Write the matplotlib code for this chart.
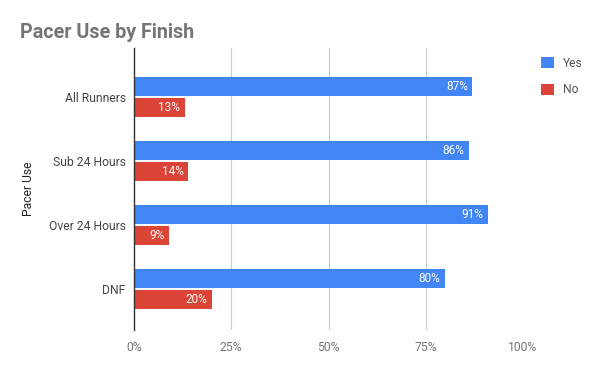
import matplotlib
matplotlib.use("Agg")
import matplotlib.pyplot as plt
import numpy as np

categories = ["All Runners", "Sub 24 Hours", "Over 24 Hours", "DNF"]
yes_vals = [87, 86, 91, 80]
no_vals = [13, 14, 9, 20]
xticks = [0, 25, 50, 75, 100]
xtick_labels = ["0%", "25%", "50%", "75%", "100%"]

plt.rcParams['font.family'] = ['Roboto', 'DejaVu Sans']

fig = plt.figure(figsize=(6, 3.71), dpi=100)
ax = fig.add_axes([134/600, 1-330/371, (523-134)/600, (330-48)/371])

blue = "#4285F4"
red = "#DB4437"
y = np.arange(len(categories))
h = 0.31
off = 0.165
ax.barh(y - off, yes_vals, height=h, color=blue, label="Yes", zorder=3)
ax.barh(y + off, no_vals, height=h, color=red, label="No", zorder=3)

for i in range(len(categories)):
    ax.text(yes_vals[i] - 1.2, y[i] - off, f"{yes_vals[i]}%", color="white",
            ha="right", va="center", fontsize=8.5, zorder=4)
    ax.text(no_vals[i] - 1.2, y[i] + off, f"{no_vals[i]}%", color="white",
            ha="right", va="center", fontsize=8.5, zorder=4)

ax.set_xlim(0, 100)
ax.set_ylim(3 + 41/64, -49/64)
ax.set_xticks(xticks)
ax.set_xticklabels(xtick_labels)
ax.set_yticks(y)
ax.set_yticklabels(categories)
ax.tick_params(axis='both', length=0, colors="#757575", labelsize=8.7)
ax.tick_params(axis='x', pad=8)
ax.tick_params(axis='y', pad=6, labelcolor="#444444")
ax.grid(axis='x', color="#cccccc", linewidth=0.8, zorder=0)
for s in ["top", "right", "bottom"]:
    ax.spines[s].set_visible(False)
ax.spines["left"].set_color("#333333")
ax.spines["left"].set_linewidth(1)
ax.spines["left"].set_zorder(5)

fig.text(28/600, 1-189/371, "Pacer Use", rotation=90, ha="center", va="center",
         fontsize=8.7, color="#222222")
fig.text(20/600, 1-32/371, "Pacer Use by Finish", fontsize=14.2, fontweight="bold",
         color="#757575", ha="left", va="center")

leg = fig.legend(loc="upper left", bbox_to_anchor=(541/600, 1-57/371), frameon=False,
                 fontsize=8.7, handlelength=1.05, handleheight=1.05, labelspacing=1.1,
                 handletextpad=0.75, borderaxespad=0, borderpad=0)
for t in leg.get_texts():
    t.set_color("#555555")

fig.savefig("out.png", dpi=100)
